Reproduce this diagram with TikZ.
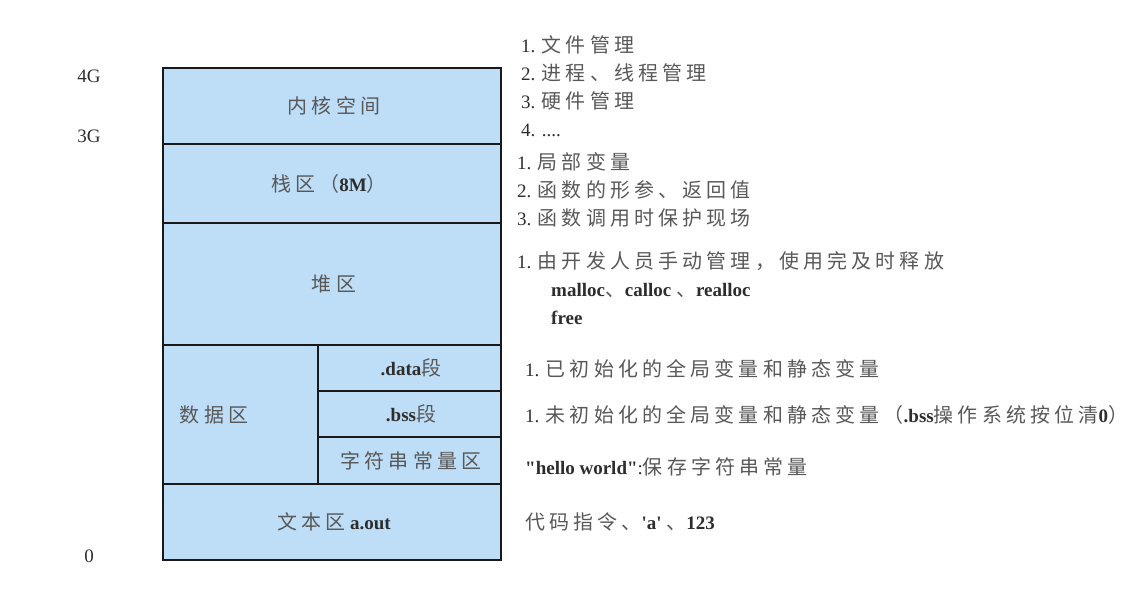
\documentclass[tikz,border=0pt]{standalone}
\usepackage{fontspec}
\setmainfont{Liberation Serif}[Ligatures=TeXOff]
\newfontfamily\zhfont[LetterSpace=21,Scale=1.05]{Noto Sans CJK SC}
\usepackage{xcolor}
\usetikzlibrary{calc, positioning}

\definecolor{segblue}{RGB}{190,221,246}
\definecolor{zhgray}{RGB}{88,88,88}
\definecolor{latgray}{RGB}{45,45,45}

\newcommand{\zh}[1]{{\zhfont\color{zhgray}#1}}
\newcommand{\lat}[1]{{\color{latgray}#1}}
\newcommand{\latb}[1]{{\color{latgray}\bfseries #1}}

\begin{document}
\begin{tikzpicture}[
        x=1pt, y=-1pt,
        every node/.style={font=\fontsize{19}{28}\selectfont, inner sep=0pt},
        seg/.style={fill=segblue, draw=black!90, line width=1.8pt},
        note/.style={anchor=west, align=left}
]
\useasboundingbox (0,0) rectangle (1146,598);

%--- address marks ------------------------------------------
\node (top4g) at (89,76)  {\lat{4G}};
\node (top3g) at (89,136) {\lat{3G}};
\node (zero)  at (89,556) {\lat{0}};

%--- segments, top to bottom ---------------------------------
\draw[seg] (163,68)  rectangle (501,144);   % kernel
\draw[seg] (163,144) rectangle (501,223);   % stack
\draw[seg] (163,223) rectangle (501,345);   % heap
\draw[seg] (163,345) rectangle (501,484);   % data
\draw[seg] (318,345) rectangle (501,391);   % .data
\draw[seg] (318,391) rectangle (501,437);   % .bss
\draw[seg] (318,437) rectangle (501,484);   % string constants
\draw[seg] (163,484) rectangle (501,560);   % text

%--- segment labels ------------------------------------------
\node (kernel)  at (334,106) {\zh{内核空间}};
\node (stack)   at (329,184) {\zh{栈区（}\latb{8M}\zh{）}};
\node (heap)    at (334,284) {\zh{堆区}};
\node (data)    at (214,415) {\zh{数据区}};
\node (dataseg) at (411,368) {\latb{.data}\zh{段}};
\node (bssseg)  at (411,414) {\latb{.bss}\zh{段}};
\node (strseg)  at (411,461) {\zh{字符串常量区}};
\node (textseg) at (334,522) {\zh{文本区} \latb{a.out}};

%--- notes on the right --------------------------------------
\node[note] (kernnote) at (521,86)
     {\lat{1.} \zh{文件管理}\\
      \lat{2.} \zh{进程、线程管理}\\
      \lat{3.} \zh{硬件管理}\\
      \lat{4.} \lat{....}};
\node[note] (stacknote) at (517,190)
     {\lat{1.} \zh{局部变量}\\
      \lat{2.} \zh{函数的形参、返回值}\\
      \lat{3.} \zh{函数调用时保护现场}};
\node[note] (heapnote) at (517,288)
     {\lat{1.} \zh{由开发人员手动管理，使用完及时释放}\\
      \hspace*{34pt}\latb{malloc}\zh{、}\latb{calloc} \zh{、}\latb{realloc}\\
      \hspace*{34pt}\latb{free}};
\node[note] (datanote) at (525,369)
     {\lat{1.} \zh{已初始化的全局变量和静态变量}};
\node[note] (bssnote)  at (525,415)
     {\lat{1.} \zh{未初始化的全局变量和静态变量（}\latb{.bss}\zh{操作系统按位清}\latb{0}\zh{）}};
\node[note] (strnote)  at (525,467)
     {\latb{"hello world"}\lat{:}\zh{保存字符串常量}};
\node[note] (textnote) at (525,522)
     {\zh{代码指令、}\latb{'a'} \zh{、}\latb{123}};

\end{tikzpicture}
\end{document}
